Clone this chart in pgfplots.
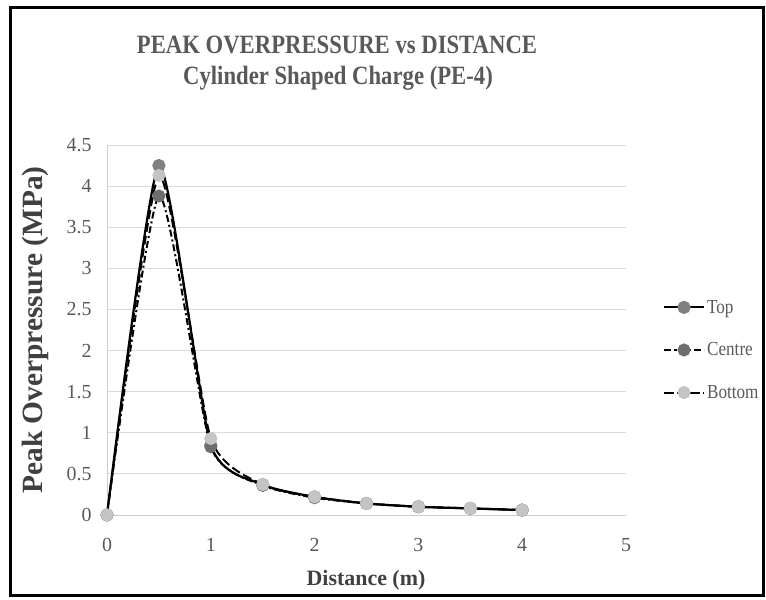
\documentclass[border=0pt]{standalone}
\usepackage{pgfplots}
\pgfplotsset{compat=1.18}
\usepackage{fontspec}
\setmainfont{Liberation Serif}
\newfontfamily\cond[FakeStretch=0.86]{Liberation Serif}
\definecolor{txt}{HTML}{595959}
\definecolor{lab}{HTML}{404040}
\definecolor{mtop}{HTML}{808080}
\definecolor{mcen}{HTML}{6E6E6E}
\definecolor{mbot}{HTML}{C4C4C4}
\begin{document}
\begin{tikzpicture}[x=1bp,y=1bp]
\useasboundingbox (0,0) rectangle (766,600);
\draw[line width=3bp] (10,4) rectangle (763,592);
\node[font=\cond\bfseries\fontsize{26.5}{28}\selectfont, text=txt] at (337,555) {PEAK OVERPRESSURE vs DISTANCE};
\node[font=\cond\bfseries\fontsize{26.5}{28}\selectfont, text=txt] at (338,522) {Cylinder Shaped Charge (PE-4)};
\node[font=\bfseries\fontsize{29.5}{31}\selectfont, text=lab, rotate=90] at (35,270) {Peak Overpressure (MPa)};
\node[font=\bfseries\fontsize{22}{24}\selectfont, text=lab] at (366,20) {Distance (m)};
\begin{axis}[
  at={(107bp,85bp)}, anchor=south west,
  width=519bp, height=370bp, scale only axis,
  xmin=0, xmax=5, ymin=0, ymax=4.5,
  xtick={0,1,2,3,4,5}, ytick={0,0.5,1,1.5,2,2.5,3,3.5,4,4.5},
  yticklabels={0,0.5,1,1.5,2,2.5,3,3.5,4,4.5},
  xticklabels={0,1,2,3,4,5},
  /pgf/number format/assume math mode=true,
  ymajorgrids, grid style={draw=black!15, line width=0.8bp},
  axis x line*=bottom, axis y line*=left,
  x axis line style={draw=black!20, line width=0.8bp, -},
  y axis line style={draw=black!20, line width=0.8bp, -},
  major tick length=0pt,
  tick label style={font=\fontsize{20}{22}\selectfont, text=txt},
  yticklabel style={xshift=-12bp},
  xticklabel style={yshift=-20bp},
  legend style={draw=none, fill=none, at={(1.065,0.446)}, anchor=west,
    font=\cond\fontsize{20}{22}\selectfont, text=txt, row sep=24bp,
    /tikz/every even column/.append style={column sep=3bp}},
  legend cell align=left,
  legend image code/.code={\draw[mark repeat=2,mark phase=2,#1] plot coordinates {(0bp,0bp)(20bp,0bp)(40bp,0bp)};},
  clip=false,
]
\addplot[black, line width=2.2bp, smooth, tension=0.35, mark=*, mark size=5.5bp, mark options={solid, draw=mtop, fill=mtop}]
  coordinates {(0,0)(0.5,4.25)(1,0.85)(1.5,0.37)(2,0.22)(2.5,0.14)(3,0.10)(3.5,0.08)(4,0.06)};
\addlegendentry{Top}
\addplot[black, line width=2bp, smooth, tension=0.35, dash pattern=on 7bp off 3bp on 2bp off 3bp, mark=*, mark size=5.5bp, mark options={solid, draw=mcen, fill=mcen}]
  coordinates {(0,0)(0.5,3.88)(1,0.83)(1.5,0.36)(2,0.21)(2.5,0.14)(3,0.10)(3.5,0.08)(4,0.06)};
\addlegendentry{Centre}
\addplot[black, line width=2bp, smooth, tension=0.35, dash pattern=on 9bp off 4bp, mark=*, mark size=5.5bp, mark options={solid, draw=mbot, fill=mbot}]
  coordinates {(0,0)(0.5,4.13)(1,0.93)(1.5,0.37)(2,0.22)(2.5,0.14)(3,0.10)(3.5,0.08)(4,0.06)};
\addlegendentry{Bottom}
\end{axis}
\end{tikzpicture}
\end{document}
